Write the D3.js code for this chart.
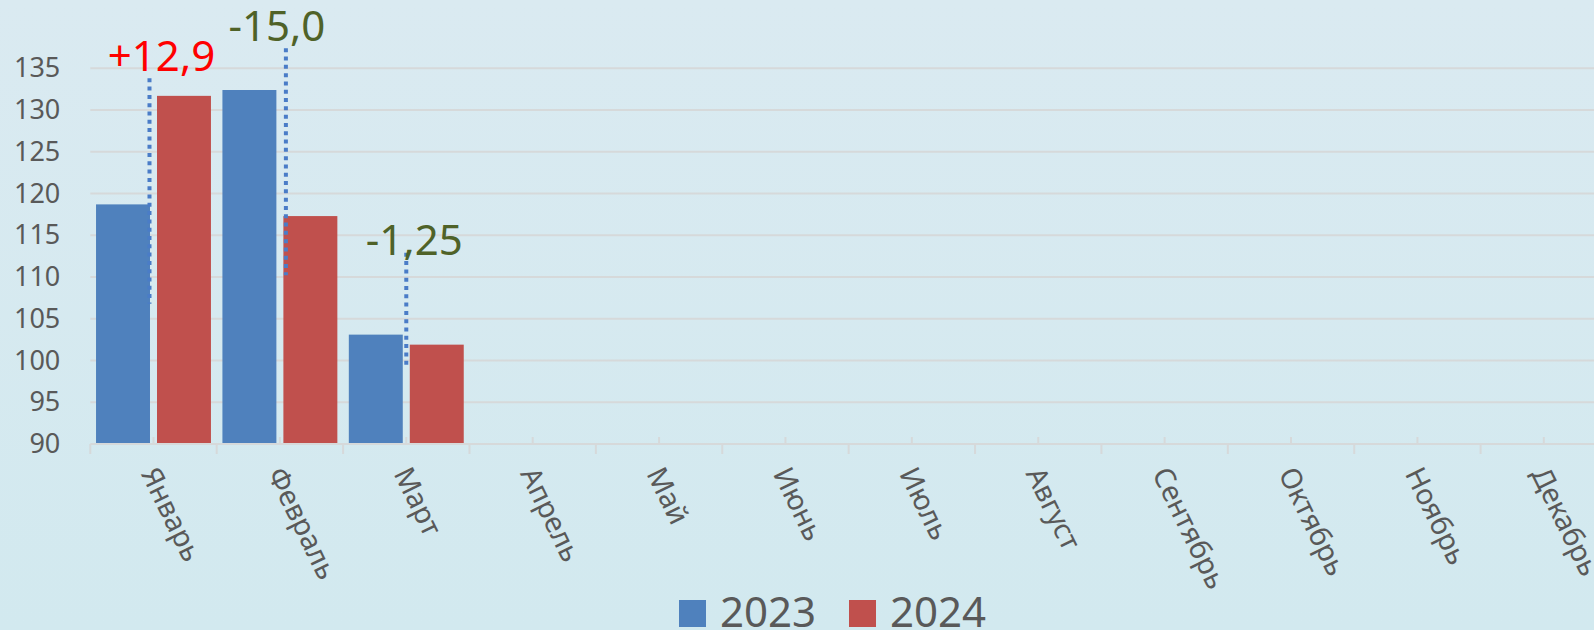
<!DOCTYPE html>
<html>
<head>
<meta charset="utf-8">
<script src="https://cdnjs.cloudflare.com/ajax/libs/d3/7.8.5/d3.min.js"></script>
<style>
  html, body { margin: 0; padding: 0; overflow: hidden; }
  body { width: 1594px; height: 630px; }
</style>
</head>
<body>
<div id="chart"></div>
<script>
// данные
const months = ["Январь", "Февраль", "Март", "Апрель", "Май", "Июнь",
                "Июль", "Август", "Сентябрь", "Октябрь", "Ноябрь", "Декабрь"];
const series = ["2023", "2024"];
const values2023 = [118.7, 132.4, 103.1];
const values2024 = [131.7, 117.3, 101.9];
const yTicks = [90, 95, 100, 105, 110, 115, 120, 125, 130, 135];

// подписи разницы
const diffMonths = ["Январь", "Февраль", "Март"];
const diffLabels = ["+12,9", "-15,0", "-1,25"];
const diffColors = ["#ff0000", "#4f6228", "#4f6228"];
const diffLineTop = [133.8, 137.4, 112.9];
const diffLineBottom = [106.8, 110.2, 99.4];
const diffLabelY = [134.7, 138.3, 112.6];

const W = 1594, H = 630;
const svg = d3.select("#chart").append("svg")
    .attr("width", W)
    .attr("height", H)
    .style("font-family", "'Noto Sans', 'Open Sans', sans-serif");

// фон
const defs = svg.append("defs");
const grad = defs.append("linearGradient")
    .attr("id", "bg").attr("x1", 0).attr("y1", 0).attr("x2", 0).attr("y2", 1);
grad.append("stop").attr("offset", "0%").attr("stop-color", "#daeaf1");
grad.append("stop").attr("offset", "100%").attr("stop-color", "#d2e9ef");
svg.append("rect").attr("width", W).attr("height", H).attr("fill", "url(#bg)");

const x0 = d3.scaleBand().domain(months).range([90.3, 1607]).padding(0);
const x1 = d3.scaleBand().domain(series).range([0, x0.bandwidth()])
    .paddingInner(0.115).paddingOuter(0.094);
const y = d3.scaleLinear().domain([90, 135]).range([444, 68.3]);

// сетка
svg.append("g")
  .selectAll("line")
  .data(yTicks.slice(1))
  .join("line")
    .attr("x1", x0.range()[0])
    .attr("x2", x0.range()[1])
    .attr("y1", d => y(d))
    .attr("y2", d => y(d))
    .attr("stroke", "#d6d9da")
    .attr("stroke-width", 2);

// ось Y
const yAxis = svg.append("g")
    .attr("transform", `translate(${x0.range()[0]},0)`)
    .call(d3.axisLeft(y).tickValues(yTicks).tickSize(0).tickPadding(30));
yAxis.select(".domain").remove();
yAxis.selectAll("text")
    .attr("font-size", 27)
    .attr("fill", "#595959")
    .attr("font-family", "'Noto Sans', 'Open Sans', sans-serif");

// столбцы
const rows = months.map((m, i) => ({
  month: m,
  vals: [values2023[i], values2024[i]]
}));
const colors = d3.scaleOrdinal().domain(series).range(["#4f81bd", "#c0504d"]);

svg.append("g")
  .selectAll("g")
  .data(rows.filter(r => r.vals[0] !== undefined))
  .join("g")
    .attr("transform", d => `translate(${x0(d.month)},0)`)
  .selectAll("rect")
  .data(d => series.map((s, j) => ({ key: s, value: d.vals[j] })))
  .join("rect")
    .attr("x", d => x1(d.key))
    .attr("width", x1.bandwidth())
    .attr("y", d => y(d.value))
    .attr("height", d => y(90) - y(d.value))
    .attr("fill", d => colors(d.key));

// ось X
const xAxis = svg.append("g")
    .attr("transform", `translate(0,${y(90)})`);
xAxis.append("line")
    .attr("x1", x0.range()[0]).attr("x2", x0.range()[1])
    .attr("stroke", "#d6d9da").attr("stroke-width", 2);
xAxis.selectAll(".major")
  .data(months.concat([null]))
  .join("line")
    .attr("class", "major")
    .attr("x1", (d, i) => x0.range()[0] + i * x0.step())
    .attr("x2", (d, i) => x0.range()[0] + i * x0.step())
    .attr("y1", 0).attr("y2", 10)
    .attr("stroke", "#d6d9da").attr("stroke-width", 2);
xAxis.selectAll(".minor")
  .data(months)
  .join("line")
    .attr("class", "minor")
    .attr("x1", d => x0(d) + x0.bandwidth() / 2)
    .attr("x2", d => x0(d) + x0.bandwidth() / 2)
    .attr("y1", -7).attr("y2", 0)
    .attr("stroke", "#d6d9da").attr("stroke-width", 2);

xAxis.selectAll(".lbl")
  .data(months)
  .join("text")
    .attr("class", "lbl")
    .attr("transform", d => `translate(${x0(d) + x0.bandwidth() / 2 - 4},${25}) rotate(64)`)
    .attr("dy", "0.35em")
    .attr("text-anchor", "start")
    .attr("font-size", 28.5)
    .attr("fill", "#595959")
    .text(d => d);

// пунктирные линии и подписи
const gapX = m => x0(m) + (x1("2023") + x1.bandwidth() + x1("2024")) / 2;
const lineNudge = [-4, 6, 0];
const textNudge = [8, -3, 8];

svg.append("g")
  .selectAll("line")
  .data(diffMonths)
  .join("line")
    .attr("x1", (d, i) => gapX(d) + lineNudge[i])
    .attr("x2", (d, i) => gapX(d) + lineNudge[i])
    .attr("y1", (d, i) => y(diffLineTop[i]))
    .attr("y2", (d, i) => y(diffLineBottom[i]))
    .attr("stroke", "#4a7cc7")
    .attr("stroke-width", 4)
    .attr("stroke-dasharray", "4,4.3");

svg.append("g")
  .selectAll("text")
  .data(diffMonths)
  .join("text")
    .attr("x", (d, i) => gapX(d) + textNudge[i])
    .attr("y", (d, i) => y(diffLabelY[i]))
    .attr("text-anchor", "middle")
    .attr("font-size", 42)
    .attr("fill", (d, i) => diffColors[i])
    .text((d, i) => diffLabels[i]);

// легенда
const legend = svg.append("g").attr("transform", "translate(679,600)");
const li = legend.selectAll("g")
  .data(series)
  .join("g")
    .attr("transform", (d, i) => `translate(${i * 170},0)`);
li.append("rect")
    .attr("width", 27).attr("height", 27)
    .attr("fill", d => colors(d));
li.append("text")
    .attr("x", 41).attr("y", 27)
    .attr("font-size", 42)
    .attr("fill", "#595959")
    .text(d => d);
</script>
</body>
</html>
